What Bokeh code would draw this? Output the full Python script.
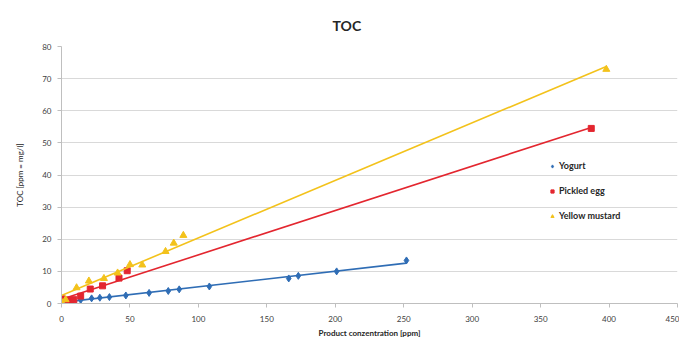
import numpy as np
from bokeh.plotting import figure
from bokeh.models import Range1d, Legend, LegendItem, SingleIntervalTicker, Title
from bokeh.embed import file_html
from bokeh.resources import INLINE

# --- data ---
yogurt_x = [0, 8, 14, 22, 28, 35, 47, 64, 78, 86, 108, 166, 173, 201, 252]
yogurt_y = [0.8, 1.0, 1.1, 1.6, 1.8, 2.0, 2.5, 3.3, 3.9, 4.4, 5.3, 7.8, 8.6, 10.0, 13.4]

egg_x = [0, 5, 9, 14, 21, 30, 42, 48, 387]
egg_y = [1.5, 1.1, 1.2, 2.3, 4.5, 5.5, 7.9, 10.2, 54.5]

mustard_x = [0, 3, 11, 20, 31, 41, 50, 59, 76, 82, 89, 398]
mustard_y = [0.5, 1.2, 4.9, 7.0, 7.8, 9.5, 12.1, 12.0, 16.2, 18.8, 21.2, 72.9]

series_names = ["Yogurt", "Pickled egg", "Yellow mustard"]
colors = ["#2F6DB5", "#E3262F", "#F3C21B"]

x_ticks_step = 50
y_ticks_step = 10

FONT = "Lato"

p = figure(width=679, height=340, output_backend="svg", toolbar_location=None,
           x_range=Range1d(0, 450), y_range=Range1d(0, 80),
           min_border_left=61, min_border_right=2, min_border_top=46, min_border_bottom=34)

p.title = Title(text="TOC", align="left", offset=271, text_font=FONT, text_font_size="14px",
                text_font_style="bold", text_color="#262626", standoff=26)

p.outline_line_color = None
p.background_fill_color = "white"
p.border_fill_color = "white"

# grid
p.xgrid.grid_line_color = None
p.ygrid.grid_line_color = "#D9D9D9"
p.ygrid.grid_line_width = 1
p.xaxis.ticker = SingleIntervalTicker(interval=x_ticks_step)
p.yaxis.ticker = SingleIntervalTicker(interval=y_ticks_step)

for ax in (p.xaxis, p.yaxis):
    ax.axis_line_color = "#BFBFBF"
    ax.major_tick_line_color = "#BFBFBF"
    ax.minor_tick_line_color = None
    ax.major_tick_in = 0
    ax.major_tick_out = 4
    ax.major_label_text_font = FONT
    ax.major_label_text_font_size = "8px"
    ax.major_label_text_color = "#404040"
    ax.axis_label_text_font = FONT
    ax.axis_label_text_font_size = "8px"
    ax.axis_label_text_color = "#262626"

p.xaxis.major_label_standoff = 8
p.yaxis.major_label_standoff = 6
p.xaxis.axis_label = "Product conzentration [ppm]"
p.xaxis.axis_label_text_font_style = "bold"
p.xaxis.axis_label_standoff = 3
p.yaxis.axis_label = "TOC [ppm = mg/l]"
p.yaxis.axis_label_text_font_style = "normal"
p.yaxis.axis_label_standoff = 14

items = []
data = [(yogurt_x, yogurt_y, "diamond", 7), (egg_x, egg_y, "square", 6), (mustard_x, mustard_y, "triangle", 7)]
for (xs, ys, marker, size), name, c in zip(data, series_names, colors):
    xs = np.array(xs, dtype=float)
    ys = np.array(ys, dtype=float)
    k, b = np.polyfit(xs, ys, 1)
    lx = np.array([xs.min(), xs.max()])
    p.line(lx, k * lx + b, line_color=c, line_width=1.6)
    r = p.scatter(xs, ys, marker=marker, size=size, fill_color=c, line_color=c)
    items.append(LegendItem(label=name, renderers=[r]))

legend = Legend(items=items, location=(487, 82), orientation="vertical",
                background_fill_alpha=0, border_line_color=None,
                label_text_font=FONT, label_text_font_size="9px", label_text_font_style="bold",
                label_text_color="#262626", glyph_width=8, glyph_height=8,
                label_standoff=3, spacing=14, padding=0, margin=0, label_height=10)
p.add_layout(legend)

open("out.html", "w").write(file_html(p, INLINE))
